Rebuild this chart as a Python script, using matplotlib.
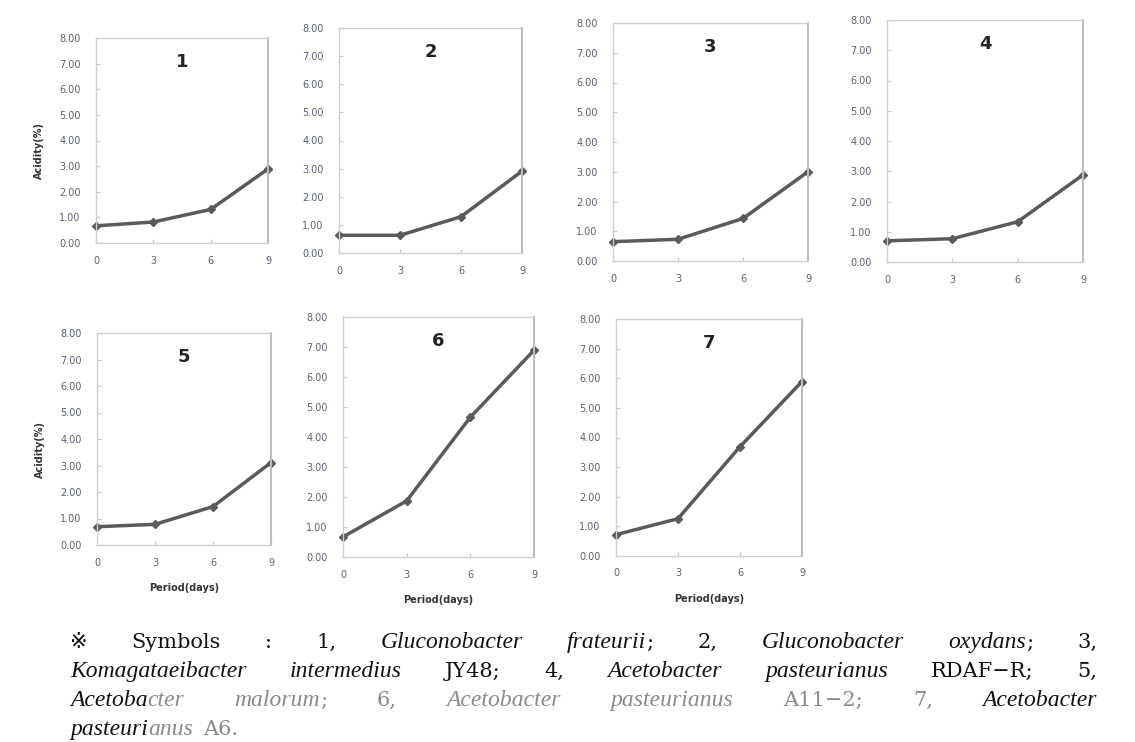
import matplotlib
matplotlib.use("Agg")
import matplotlib.pyplot as plt
from matplotlib.ticker import FormatStrFormatter

# period (days) and acidity (%)
days = [0, 3, 6, 9]
acid_1 = [0.67, 0.82, 1.31, 2.89]
acid_2 = [0.63, 0.63, 1.29, 2.91]
acid_3 = [0.65, 0.73, 1.43, 3.00]
acid_4 = [0.70, 0.77, 1.33, 2.88]
acid_5 = [0.69, 0.78, 1.45, 3.11]
acid_6 = [0.67, 1.87, 4.66, 6.89]
acid_7 = [0.72, 1.26, 3.69, 5.89]
panel_names = ["1", "2", "3", "4", "5", "6", "7"]
series = [acid_1, acid_2, acid_3, acid_4, acid_5, acid_6, acid_7]

W, H = 1135, 742
# axes boxes in pixels: left, right, top, bottom
boxes = [(96, 268, 38, 243), (339, 522, 28, 253), (613, 808, 23, 261),
         (887, 1083, 20, 262), (97, 271, 333, 545), (343, 534, 317, 557),
         (616, 802, 319, 556)]

fig = plt.figure(figsize=(W / 100, H / 100), dpi=100)

line_col = "#5a5a5a"
for i, (name, vals) in enumerate(zip(panel_names, series)):
    l, r, t, b = boxes[i]
    ax = fig.add_axes([l / W, 1 - b / H, (r - l) / W, (b - t) / H])
    ax.plot(days, vals, "-", color=line_col, lw=2.5, marker="D", ms=4.5,
            mfc=line_col, mec=line_col, clip_on=False)
    ax.set_xlim(0, 9)
    ax.set_ylim(0, 8)
    ax.set_xticks(days)
    ax.set_yticks(range(0, 9))
    ax.yaxis.set_major_formatter(FormatStrFormatter("%.2f"))
    ax.tick_params(direction="in", length=3, color="#c8c8c8",
                   labelsize=7, labelcolor="#5a6070")
    ax.tick_params(axis="y", pad=11)
    ax.tick_params(axis="x", pad=9)
    for sp in ax.spines.values():
        sp.set_color("#cfcfcf")
        sp.set_linewidth(1.0)
    ax.spines["right"].set_color("#bdbdbd")
    ax.spines["right"].set_linewidth(1.5)
    ax.annotate(name, xy=(0.5, 1), xycoords="axes fraction",
                xytext=(0, -24 * 0.72), textcoords="offset points",
                ha="center", va="center", fontsize=13, fontweight="bold",
                color="#222222")
    if name in ("1", "5"):
        ax.set_ylabel("Acidity(%)", fontsize=7, fontweight="bold", color="#333333")
        ax.yaxis.set_label_coords(-52 / (r - l), 0.45)
    if name in ("5", "6", "7"):
        ax.set_xlabel("Period(days)", fontsize=7, fontweight="bold", color="#333333")
        ax.xaxis.set_label_coords(0.5, -38 / (b - t))

# caption, justified between two margins
roman = dict(family=["DejaVu Serif", "DejaVu Sans"], style="normal", fontsize=15)
ital = dict(family=["Liberation Serif", "DejaVu Serif"], style="italic", fontsize=17)
blk = "#111111"
gry = "#8a8a8a"
cap_lines = [
    [[("※", "r", blk)], [("Symbols", "r", blk)], [(":", "r", blk)],
     [("1,", "r", blk)], [("Gluconobacter", "i", blk)],
     [("frateurii", "i", blk), (";", "r", blk)], [("2,", "r", blk)],
     [("Gluconobacter", "i", blk)],
     [("oxydans", "i", blk), (";", "r", blk)], [("3,", "r", blk)]],
    [[("Komagataeibacter", "i", blk)], [("intermedius", "i", blk)],
     [("JY48;", "r", blk)], [("4,", "r", blk)],
     [("Acetobacter", "i", blk)], [("pasteurianus", "i", blk)],
     [("RDAF\u2212R;", "r", blk)], [("5,", "r", blk)]],
    [[("Acetoba", "i", blk), ("cter", "i", gry)],
     [("malorum", "i", gry), (";", "r", gry)], [("6,", "r", gry)],
     [("Acetobacter", "i", gry)], [("pasteurianus", "i", gry)],
     [("A11\u22122;", "r", gry)], [("7,", "r", gry)],
     [("Acetobacter", "i", blk)]],
    [[("pasteuri", "i", blk), ("anus", "i", gry)], [("A6.", "r", gry)]],
]
baselines = [648, 677, 706, 735]
x_left, x_right = 70, 1097

fig.canvas.draw()
renderer = fig.canvas.get_renderer()
for li, (words, yb) in enumerate(zip(cap_lines, baselines)):
    texts = []
    widths = []
    for word in words:
        segs = []
        wsum = 0
        for s, style, col in word:
            props = ital if style == "i" else roman
            t = fig.text(0, 1 - yb / H, s, color=col, va="baseline", ha="left",
                         **props)
            w = t.get_window_extent(renderer).width
            segs.append((t, w))
            wsum += w
        texts.append(segs)
        widths.append(wsum)
    if li < len(cap_lines) - 1:
        gap = (x_right - x_left - sum(widths)) / (len(words) - 1)
    else:
        gap = 10
    x = x_left
    for segs, wsum in zip(texts, widths):
        xx = x
        for t, w in segs:
            t.set_x(xx / W)
            xx += w
        x += wsum + gap

fig.savefig("out.png", dpi=100)
